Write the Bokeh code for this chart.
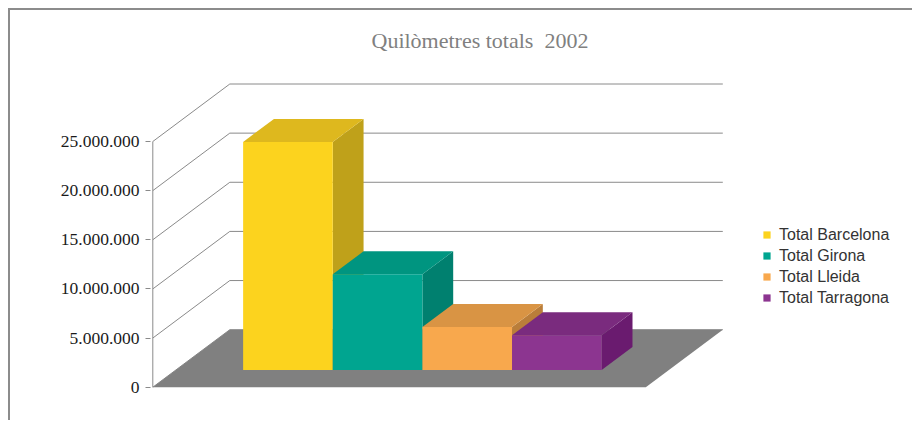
from bokeh.plotting import figure
from bokeh.models import Range1d, FixedTicker, Legend, LegendItem
from bokeh.embed import file_html
from bokeh.resources import INLINE

# ---------------- data ----------------
title_text = "Quilòmetres totals \u00a02002"
series = ["Total Barcelona", "Total Girona", "Total Lleida", "Total Tarragona"]
values = [23_200_000, 9_730_000, 4_370_000, 3_520_000]
y_ticks = [0, 5_000_000, 10_000_000, 15_000_000, 20_000_000, 25_000_000]

# ---------------- styles ----------------
front_colors = ["#FCD31E", "#00A590", "#F8A84D", "#8C3590"]
top_colors = ["#DEB81E", "#009580", "#D99444", "#7A2B7E"]
side_colors = ["#BFA11A", "#00806F", "#BA7E3A", "#6A1B6F"]
GRID_COLOR = "#8a8a8a"
FLOOR_COLOR = "#808080"

# ---------------- layout ----------------
W, H = 904, 412
LEFT, TOP = 140, 48
FRAME_W, FRAME_H = W - LEFT, H - TOP
PX_PER_X = 493.0                     # floor front width in px (1 category unit)
X0_PX = 2.3                          # frame-left to x = 0
PX_PER_Y = 245.7 / 25_000_000        # px per value unit
Y0_PX = 35.3                         # frame-bottom to y = 0
DX = 77.0 / PX_PER_X                 # depth offset (x, data units)
DY = 57.5 / PX_PER_Y                 # depth offset (y, data units)
GAP_WIDTH = 1.5
GAP_DEPTH = 1.5

p = figure(width=W, height=H, output_backend="svg", toolbar_location=None,
           x_range=Range1d(-X0_PX / PX_PER_X, (FRAME_W - X0_PX) / PX_PER_X),
           y_range=Range1d(-Y0_PX / PX_PER_Y, (FRAME_H - Y0_PX) / PX_PER_Y),
           x_axis_location=None, min_border_left=LEFT, min_border_top=TOP,
           min_border_right=0, min_border_bottom=0)
p.styles = {"margin-left": "8px", "margin-top": "8px",
            "border-top": "2px solid #8c8c8c", "border-left": "2px solid #8c8c8c"}
p.xgrid.visible = False
p.ygrid.visible = False
p.outline_line_color = None
p.background_fill_color = "white"
p.border_fill_color = "white"

# title
p.title.text = title_text
p.title.align = "left"
p.title.offset = 221
p.title.standoff = 12
p.title.text_font = "Liberation Serif"
p.title.text_font_size = "22px"
p.title.text_font_style = "normal"
p.title.text_color = "#808080"

# y axis
ax = p.yaxis[0]
ax.ticker = FixedTicker(ticks=y_ticks, minor_ticks=[])
ax.major_label_overrides = {t: f"{t:,}".replace(",", ".") for t in y_ticks}
ax.axis_line_color = None
ax.major_tick_out = 5
ax.major_tick_in = 0
ax.major_tick_line_color = GRID_COLOR
ax.minor_tick_line_color = None
ax.major_label_standoff = 6
ax.major_label_text_font = "Liberation Serif"
ax.major_label_text_font_size = "17.5px"
ax.major_label_text_color = "#1a1a1a"

# walls: back gridlines and side-wall diagonals
p.segment(x0=[DX] * len(y_ticks), y0=[t + DY for t in y_ticks],
          x1=[1 + DX] * len(y_ticks), y1=[t + DY for t in y_ticks],
          line_color=GRID_COLOR, line_width=1)
p.segment(x0=[0] * len(y_ticks), y0=y_ticks,
          x1=[DX] * len(y_ticks), y1=[t + DY for t in y_ticks],
          line_color=GRID_COLOR, line_width=1)
p.segment(x0=[0], y0=[y_ticks[0]], x1=[0], y1=[y_ticks[-1]],
          line_color=GRID_COLOR, line_width=1)

# floor
p.patch(x=[0, 1, 1 + DX, DX], y=[0, 0, DY, DY], fill_color=FLOOR_COLOR, line_color=None)

# bars
n = len(values)
bw = 1.0 / (n + GAP_WIDTH)
start = GAP_WIDTH / 2 * bw
bd = 1.0 / (1 + GAP_DEPTH)
fd = (1 - bd) / 2
fx, fy = fd * DX, fd * DY
bdx, bdy = bd * DX, bd * DY

items = []
for i, v in enumerate(values):
    x0 = start + i * bw + fx
    x1 = x0 + bw
    y0 = fy
    y1 = v + fy
    p.patch(x=[x1, x1 + bdx, x1 + bdx, x1], y=[y0, y0 + bdy, y1 + bdy, y1],
            fill_color=side_colors[i], line_color=None)
    p.patch(x=[x0, x1, x1 + bdx, x0 + bdx], y=[y1, y1, y1 + bdy, y1 + bdy],
            fill_color=top_colors[i], line_color=None)
    r = p.quad(left=[x0], right=[x1], bottom=[y0], top=[y1],
               fill_color=front_colors[i], line_color=None)
    items.append(LegendItem(label=series[i], renderers=[r]))

legend = Legend(items=items, location=(612, 114), border_line_color=None,
                background_fill_alpha=0, glyph_width=9, glyph_height=9,
                label_height=21, spacing=0, padding=0, margin=0, label_standoff=8,
                label_text_font="Liberation Sans", label_text_font_size="16px",
                label_text_color="#333333")
p.add_layout(legend)

open("out.html", "w").write(file_html(p, INLINE))
